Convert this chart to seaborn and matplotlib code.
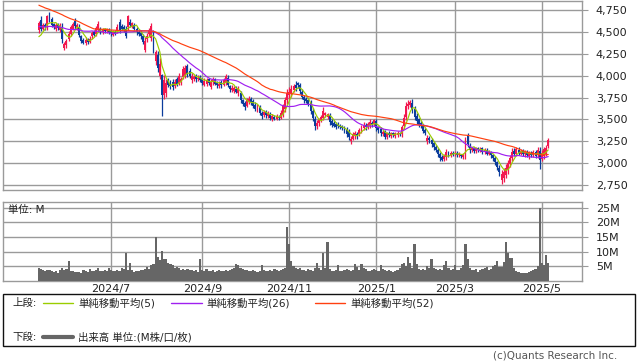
import numpy as np
import pandas as pd
import matplotlib
matplotlib.use("Agg")
import matplotlib.pyplot as plt
import seaborn as sns
from matplotlib.patches import Rectangle
from matplotlib.lines import Line2D

# ---------------- data ----------------
start_date = "2024-05-14"
end_date = "2025-05-08"
market_holidays = ["2024-07-15", "2024-08-12", "2024-09-16", "2024-09-23", "2024-10-14",
                   "2024-11-04", "2024-12-31", "2025-01-01", "2025-01-02", "2025-01-03",
                   "2025-01-13", "2025-02-11", "2025-02-24", "2025-03-20", "2025-04-29",
                   "2025-05-05", "2025-05-06"]

# closes before the visible window (only used by the moving averages)
prior_closes = [5120, 5080, 5150, 5100, 5060, 5130, 5090, 5040, 5110, 5070, 5020, 5060, 5000,
                5050, 5080, 5030, 4990, 5040, 5010, 5060, 5020, 4980, 5030, 5000, 5040, 4990,
                4620, 4580, 4640, 4600, 4560, 4610, 4650, 4590, 4570, 4620, 4580, 4540, 4600,
                4630, 4590, 4560, 4600, 4580, 4550, 4620, 4560,
                4440, 4390, 4420, 4390]

opens = [4520, 4640, 4540, 4580, 4560, 4690, 4650, 4590, 4540, 4580,
         4520, 4560, 4320, 4350, 4420, 4480, 4540, 4630, 4560, 4560,
         4450, 4410, 4370, 4410, 4390, 4450, 4500, 4480, 4520, 4540,
         4500, 4530, 4510, 4520, 4510, 4470, 4500, 4510, 4620, 4570,
         4560, 4540, 4560, 4620, 4570, 4580, 4540, 4500, 4490, 4460,
         4300, 4420, 4480, 4430, 4480, 4170, 4240, 4000, 4010, 3780,
         3800, 3950, 3920, 3930, 3880, 3960, 3920, 3930, 3990, 4000,
         4110, 4060, 3950, 3960, 4000, 3960, 3990, 3960, 3900, 3910,
         3960, 3870, 3930, 3960, 3920, 3880, 3930, 3900, 3920, 3980,
         3880, 3840, 3830, 3850, 3800, 3800, 3720, 3690, 3660, 3700,
         3740, 3710, 3670, 3620, 3640, 3580, 3550, 3590, 3540, 3560,
         3510, 3530, 3510, 3530, 3520, 3560, 3620, 3720, 3780, 3790,
         3840, 3900, 3920, 3890, 3820, 3760, 3740, 3720, 3690, 3600,
         3510, 3420, 3460, 3490, 3520, 3550, 3530, 3540, 3480, 3460,
         3450, 3440, 3430, 3420, 3400, 3380, 3370, 3250, 3280, 3310,
         3330, 3330, 3370, 3400, 3440, 3410, 3420, 3460, 3450, 3480,
         3410, 3390, 3330, 3360, 3300, 3350, 3310, 3340, 3310, 3320,
         3340, 3330, 3420, 3530, 3650, 3670, 3690, 3620, 3540, 3500,
         3460, 3430, 3380, 3250, 3290, 3270, 3230, 3190, 3150, 3110,
         3070, 3050, 3070, 3120, 3090, 3120, 3100, 3120, 3090, 3090,
         3070, 3080, 3320, 3200, 3150, 3170, 3140, 3170, 3150, 3170,
         3130, 3150, 3110, 3120, 3090, 3060, 3010, 2950, 2810, 2830,
         2870, 2920, 2990, 3060, 3140, 3100, 3150, 3110, 3140, 3100,
         3130, 3080, 3120, 3090, 3130, 3090, 3140, 3050, 3080, 3100,
         3200]

closes = [4600, 4540, 4580, 4560, 4680, 4650, 4580, 4560, 4580, 4550,
          4570, 4420, 4360, 4400, 4480, 4560, 4590, 4570, 4580, 4470,
          4400, 4380, 4410, 4390, 4420, 4490, 4470, 4550, 4590, 4510,
          4530, 4510, 4530, 4500, 4490, 4500, 4490, 4560, 4520, 4540,
          4530, 4460, 4680, 4580, 4600, 4540, 4500, 4480, 4450, 4390,
          4400, 4460, 4520, 4570, 4300, 4270, 4090, 4140, 3780, 3950,
          3920, 3900, 3880, 3870, 3930, 3910, 4000, 3960, 4080, 4090,
          4020, 4000, 4000, 3990, 3960, 3980, 3950, 3920, 3940, 3950,
          3920, 3930, 3960, 3910, 3890, 3910, 3890, 3950, 4000, 3900,
          3850, 3860, 3860, 3820, 3850, 3720, 3680, 3640, 3720, 3740,
          3700, 3660, 3620, 3660, 3580, 3540, 3590, 3550, 3580, 3520,
          3540, 3510, 3540, 3520, 3580, 3650, 3720, 3800, 3820, 3850,
          3880, 3860, 3890, 3830, 3760, 3720, 3710, 3680, 3600, 3520,
          3420, 3460, 3500, 3530, 3600, 3570, 3560, 3470, 3440, 3430,
          3410, 3420, 3410, 3400, 3370, 3330, 3300, 3280, 3330, 3350,
          3310, 3380, 3420, 3440, 3410, 3450, 3470, 3440, 3490, 3400,
          3380, 3340, 3360, 3300, 3340, 3320, 3340, 3320, 3340, 3350,
          3330, 3410, 3520, 3650, 3680, 3700, 3610, 3530, 3480, 3440,
          3420, 3370, 3340, 3290, 3260, 3220, 3180, 3150, 3100, 3060,
          3040, 3080, 3130, 3090, 3120, 3100, 3120, 3090, 3110, 3080,
          3100, 3260, 3220, 3150, 3170, 3140, 3170, 3150, 3160, 3130,
          3150, 3110, 3130, 3090, 3060, 3010, 2960, 2900, 2880, 2900,
          2950, 3000, 3060, 3130, 3110, 3160, 3120, 3140, 3100, 3130,
          3090, 3120, 3090, 3130, 3080, 3150, 3040, 3120, 3160, 3170,
          3270]

# upper / lower shadow lengths (yen) read per candle
wick_up = [30, 40, 20, 30, 20, 40, 20, 20, 30, 20,
           30, 40, 30, 20, 30, 20, 30, 30, 20, 30,
           20, 20, 30, 20, 30, 20, 30, 20, 40, 20,
           20, 20, 20, 30, 20, 20, 20, 30, 30, 20,
           20, 30, 20, 30, 20, 20, 20, 20, 30, 20,
           40, 30, 30, 40, 40, 30, 40, 60, 20, 60,
           40, 30, 30, 30, 30, 30, 30, 30, 30, 30,
           20, 30, 30, 20, 20, 30, 20, 20, 30, 20,
           20, 30, 30, 20, 20, 30, 20, 30, 20, 30,
           20, 30, 20, 30, 30, 30, 20, 20, 30, 30,
           20, 20, 30, 20, 30, 20, 20, 20, 20, 30,
           20, 20, 20, 20, 30, 30, 40, 50, 50, 40,
           30, 40, 30, 30, 30, 20, 20, 20, 30, 30,
           30, 30, 20, 20, 30, 20, 20, 30, 20, 20,
           20, 30, 20, 20, 20, 30, 20, 30, 30, 20,
           30, 20, 20, 30, 20, 20, 30, 20, 20, 30,
           20, 20, 20, 20, 20, 20, 20, 20, 20, 20,
           20, 30, 40, 50, 40, 20, 40, 30, 30, 20,
           20, 20, 20, 30, 20, 20, 20, 20, 20, 20,
           20, 30, 30, 20, 20, 20, 20, 20, 20, 20,
           20, 40, 30, 30, 20, 20, 20, 20, 20, 20,
           20, 20, 20, 20, 20, 20, 20, 30, 40, 40,
           40, 40, 30, 40, 30, 30, 30, 20, 20, 20,
           20, 20, 20, 20, 20, 30, 40, 30, 30, 40,
           20]
wick_dn = [30, 30, 20, 30, 30, 30, 20, 20, 30, 20,
           20, 40, 30, 30, 20, 30, 20, 30, 30, 30,
           30, 20, 20, 30, 20, 30, 20, 30, 20, 30,
           20, 20, 20, 20, 30, 20, 20, 20, 30, 20,
           30, 30, 30, 20, 20, 20, 30, 20, 30, 30,
           40, 30, 30, 30, 40, 50, 50, 40, 60, 40,
           40, 30, 30, 30, 20, 30, 30, 30, 30, 20,
           30, 30, 30, 20, 30, 20, 20, 30, 20, 30,
           30, 20, 30, 20, 30, 20, 30, 20, 30, 30,
           30, 20, 30, 20, 30, 30, 30, 30, 20, 20,
           30, 30, 20, 30, 30, 30, 20, 30, 20, 30,
           30, 20, 20, 30, 20, 30, 30, 40, 40, 30,
           30, 30, 30, 40, 30, 30, 20, 30, 40, 40,
           40, 30, 30, 20, 30, 20, 30, 30, 30, 20,
           20, 20, 20, 20, 30, 30, 30, 30, 20, 30,
           30, 20, 20, 20, 30, 20, 20, 30, 20, 30,
           30, 30, 20, 30, 20, 20, 20, 20, 20, 20,
           20, 30, 30, 40, 30, 30, 40, 40, 30, 30,
           20, 30, 20, 30, 30, 30, 30, 20, 30, 30,
           30, 20, 30, 20, 20, 20, 20, 20, 20, 20,
           20, 30, 30, 30, 20, 20, 20, 20, 20, 20,
           20, 20, 20, 30, 30, 30, 40, 50, 40, 40,
           40, 40, 30, 30, 30, 20, 30, 20, 20, 30,
           20, 30, 20, 20, 20, 30, 40, 30, 30, 20,
           30]

# visible wick extremes that stand out (index -> price)
wick_high = {5: 4730, 42: 4700, 58: 4020, 122: 3930, 134: 3640, 175: 3720, 202: 3350, 240: 3290}
wick_low = {12: 4290, 50: 4270, 58: 3540, 147: 3220, 163: 3280, 190: 3020, 218: 2760, 236: 2930}

volumes = [4.6, 4.0, 3.6, 3.3, 3.8, 3.6, 3.3, 3.0, 3.3, 2.8,
           3.6, 4.3, 3.8, 4.2, 6.9, 3.5, 3.4, 3.2, 3.2, 3.0,
           2.9, 3.8, 3.3, 3.0, 4.1, 3.3, 3.4, 3.6, 4.3, 3.3,
           3.4, 3.6, 3.4, 4.6, 3.6, 3.4, 3.5, 3.7, 3.4, 4.3,
           4.0, 9.5, 3.6, 6.2, 3.8, 3.0, 3.3, 3.4, 3.8, 3.6,
           4.2, 4.8, 4.0, 5.4, 5.8, 15.2, 8.3, 7.3, 10.2, 7.5,
           7.6, 6.1, 5.9, 5.4, 4.6, 4.9, 4.3, 3.8, 4.2, 3.6,
           4.0, 3.8, 3.6, 3.4, 3.6, 3.2, 7.4, 3.6, 3.3, 4.1,
           3.5, 3.4, 3.6, 3.2, 3.5, 3.8, 3.3, 3.5, 3.6, 3.4,
           3.8, 4.2, 4.5, 5.9, 5.5, 4.3, 4.2, 3.6, 3.8, 3.4,
           3.3, 3.7, 3.4, 3.2, 3.5, 5.4, 3.8, 3.5, 3.3, 3.6,
           3.4, 4.2, 3.6, 3.5, 3.9, 4.0, 4.5, 18.5, 12.8, 6.7,
           5.2, 4.6, 4.0, 4.3, 3.6, 3.8, 3.5, 4.0, 3.6, 3.4,
           4.3, 6.1, 4.5, 3.9, 9.5, 4.6, 13.3, 4.0, 3.5, 3.4,
           3.6, 5.3, 3.4, 3.5, 3.7, 4.0, 3.6, 3.5, 3.8, 5.9,
           4.8, 3.9, 5.9, 4.6, 4.1, 3.5, 3.3, 3.8, 4.1, 3.6,
           3.4, 5.5, 4.2, 3.8, 3.5, 3.6, 3.4, 3.0, 3.5, 3.8,
           4.5, 5.8, 6.3, 5.2, 8.3, 6.0, 4.6, 12.8, 5.8, 4.2,
           3.8, 4.0, 3.6, 5.1, 4.3, 7.4, 4.6, 4.0, 3.8, 4.2,
           3.6, 5.4, 7.0, 4.4, 3.9, 4.2, 5.3, 3.7, 3.8, 4.6,
           5.4, 12.6, 7.6, 4.5, 3.8, 3.6, 4.0, 3.2, 3.6, 4.1,
           4.5, 4.9, 3.9, 4.2, 5.1, 5.6, 7.0, 4.8, 4.8, 6.6,
           13.2, 9.4, 8.0, 7.9, 4.3, 3.3, 3.1, 2.9, 2.8, 2.8,
           2.9, 3.0, 3.3, 3.6, 4.0, 5.0, 25.0, 6.0, 5.4, 8.8,
           6.2]

month_labels = ["2024/7", "2024/9", "2024/11", "2025/1", "2025/3", "2025/5"]
price_ticks = [2750, 3000, 3250, 3500, 3750, 4000, 4250, 4500, 4750]
volume_ticks = [5, 10, 15, 20, 25]
ma_windows = [5, 26, 52]
legend_labels = ["単純移動平均(5)", "単純移動平均(26)", "単純移動平均(52)"]

# ---------------- styling ----------------
sns.set_theme(style="white")
plt.rcParams["font.family"] = ["DejaVu Sans", "Noto Sans CJK JP"]

UP = "#F2184F"
DOWN = "#0B3C9C"
MA_COLORS = ["#9ACD00", "#A020F0", "#FF4010"]
GRID = "#9A9A9A"
VOL = "#666666"
TXT = "#222222"

n = min(len(opens), len(closes), len(volumes))
dates = pd.bdate_range(start_date, end_date, freq="C", holidays=market_holidays)[:n]
idx = np.arange(n)
o = np.array(opens[:n], dtype=float)
c = np.array(closes[:n], dtype=float)
hi = np.maximum(o, c) + np.array(wick_up[:n], dtype=float)
lo = np.minimum(o, c) - np.array(wick_dn[:n], dtype=float)
for k, v in wick_high.items():
    if k < n:
        hi[k] = v
for k, v in wick_low.items():
    if k < n:
        lo[k] = v

allc = pd.Series(prior_closes + list(c))
mas = [allc.rolling(w).mean().to_numpy()[len(prior_closes):] for w in ma_windows]

# tick positions: first trading day of each labelled month
tick_pos = []
for lab in month_labels:
    y, m = map(int, lab.split("/"))
    hits = np.where((dates.year == y) & (dates.month == m))[0]
    tick_pos.append(int(hits[0]) if len(hits) else np.nan)

W, H = 638, 362
fig = plt.figure(figsize=(W / 100, H / 100), dpi=100)


def rect(x0, y0, x1, y1):
    return [x0 / W, 1 - y1 / H, (x1 - x0) / W, (y1 - y0) / H]


def fxy(x, y):
    return x / W, 1 - y / H


ax = fig.add_axes(rect(3, 0.5, 582, 190))
axv = fig.add_axes(rect(3, 202, 582, 281))
XLIM = (-16.9, 255.9)

# ---------- price panel ----------
up = c >= o
colors = np.where(up, UP, DOWN)
ax.vlines(idx, lo, hi, colors=colors, lw=0.9, zorder=3)
body_h = np.maximum(np.abs(c - o), 8)
ax.bar(idx, body_h, bottom=np.minimum(o, c), width=0.92, color=colors,
       linewidth=0, zorder=4)
for ma, col in zip(mas, MA_COLORS):
    sns.lineplot(x=idx, y=ma, ax=ax, color=col, lw=0.85, zorder=5)

ax.set_xlim(*XLIM)
ax.set_ylim(2693, 4862)
ax.set_xticks(tick_pos)
ax.set_xticklabels([])
ax.set_yticks(price_ticks)
ax.set_yticklabels([f"{t:,}" for t in price_ticks])
ax.yaxis.tick_right()
ax.tick_params(axis="y", length=4, width=0.8, color=GRID, pad=6,
               labelsize=8, labelcolor=TXT)
ax.tick_params(axis="x", length=0)
ax.grid(True, color=GRID, lw=1.0)
ax.set_axisbelow(True)
for s in ax.spines.values():
    s.set_color(GRID)
    s.set_linewidth(1.0)

# ---------- volume panel ----------
sns.barplot(x=idx, y=volumes[:n], ax=axv, native_scale=True, color=VOL,
            saturation=1, width=1.0, errorbar=None, linewidth=0, zorder=3)
axv.set_xlim(*XLIM)
axv.set_ylim(0, 27)
axv.set_xticks(tick_pos)
axv.set_xticklabels(month_labels)
axv.set_yticks(volume_ticks)
axv.set_yticklabels([f"{t}M" for t in volume_ticks])
axv.yaxis.tick_right()
axv.tick_params(axis="y", length=4, width=0.8, color=GRID, pad=6,
                labelsize=8, labelcolor=TXT)
axv.tick_params(axis="x", length=0, pad=2.5, labelsize=8, labelcolor=TXT)
axv.grid(True, color=GRID, lw=1.0)
axv.set_axisbelow(True)
axv.set_xlabel("")
axv.set_ylabel("")
for s in axv.spines.values():
    s.set_color(GRID)
    s.set_linewidth(1.0)
axv.text(*fxy(8, 210), "単位: M", transform=fig.transFigure, fontsize=7.5,
         color=TXT, va="center", ha="left", zorder=6)

# ---------- legend box ----------
x0, y0 = fxy(3, 346)
x1, y1 = fxy(635, 294)
fig.patches.append(Rectangle((x0, y0), x1 - x0, y1 - y0, transform=fig.transFigure,
                             fill=False, edgecolor="#111111", lw=1.0))
fs = 7.5
fig.text(*fxy(12, 303), "上段:", fontsize=fs, color=TXT, va="center", ha="left")
seg = [(43, 73, 78), (171, 202, 206), (315, 345, 350)]
for (a, b, t), col, lab in zip(seg, MA_COLORS, legend_labels):
    xa, ya = fxy(a, 303)
    xb, _ = fxy(b, 303)
    fig.lines.append(Line2D([xa, xb], [ya, ya], transform=fig.transFigure,
                            color=col, lw=1.0))
    fig.text(*fxy(t, 303), lab, fontsize=fs, color=TXT, va="center", ha="left")
fig.text(*fxy(12, 337), "下段:", fontsize=fs, color=TXT, va="center", ha="left")
xa, ya = fxy(43, 337)
xb, _ = fxy(73, 337)
fig.lines.append(Line2D([xa, xb], [ya, ya], transform=fig.transFigure,
                        color=VOL, lw=3.0))
fig.text(*fxy(78, 337), "出来高 単位:(M株/口/枚)", fontsize=fs, color=TXT,
         va="center", ha="left")
fig.text(*fxy(617, 356), "(c)Quants Research Inc.", fontsize=7.5, color="#555555",
         va="center", ha="right")

fig.savefig("out.png", dpi=100)
